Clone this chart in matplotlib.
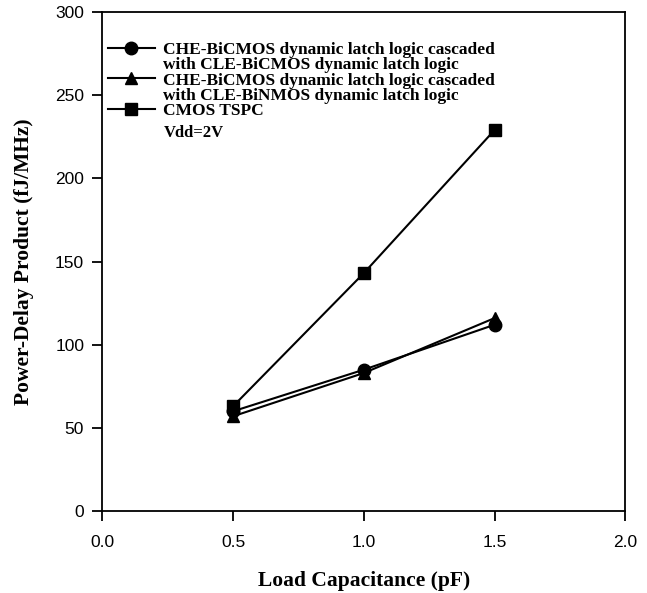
import matplotlib.pyplot as plt
from matplotlib.lines import Line2D

# data
load_pf = [0.5, 1.0, 1.5]
pdp_bicmos = [60, 85, 112]     # circles
pdp_binmos = [57, 83, 116]     # triangles
pdp_cmos = [63, 143, 229]      # squares

serif = ['Liberation Serif', 'DejaVu Serif']
sans = ['Liberation Sans', 'DejaVu Sans']

fig = plt.figure(figsize=(6.47, 5.93), dpi=100)
ax = fig.add_axes([0.158, 0.138, 0.8085, 0.842])

ax.plot(load_pf, pdp_bicmos, color='k', lw=1.5, marker='o', ms=9)
ax.plot(load_pf, pdp_binmos, color='k', lw=1.5, marker='^', ms=9)
ax.plot(load_pf, pdp_cmos, color='k', lw=1.5, marker='s', ms=8.5)

ax.set_xlim(0, 2)
ax.set_ylim(0, 300)
ax.set_xticks([0.0, 0.5, 1.0, 1.5, 2.0])
ax.set_yticks([0, 50, 100, 150, 200, 250, 300])
ax.set_xticklabels(['0.0', '0.5', '1.0', '1.5', '2.0'], family=sans, fontsize=12.5)
ax.set_yticklabels(['0', '50', '100', '150', '200', '250', '300'], family=sans, fontsize=12.5)
ax.tick_params(direction='out', length=7, width=1.3)
ax.tick_params(axis='x', pad=10)
ax.tick_params(axis='y', pad=6)
for s in ax.spines.values():
    s.set_linewidth(1.3)

ax.set_xlabel('Load Capacitance (pF)', family=serif, fontweight='bold', fontsize=15.5, labelpad=15)
ax.set_ylabel('Power-Delay Product (fJ/MHz)', family=serif, fontweight='bold', fontsize=15.5, labelpad=15)

# legend: handle sits on the first line of each two-line label
blank = Line2D([], [], linestyle='none')
handles = [
    Line2D([], [], color='k', lw=1.5, marker='o', ms=9), blank,
    Line2D([], [], color='k', lw=1.5, marker='^', ms=9), blank,
    Line2D([], [], color='k', lw=1.5, marker='s', ms=8.5),
]
labels = [
    'CHE-BiCMOS dynamic latch logic cascaded',
    'with CLE-BiCMOS dynamic latch logic',
    'CHE-BiCMOS dynamic latch logic cascaded',
    'with CLE-BiNMOS dynamic latch logic',
    'CMOS TSPC',
]
ax.legend(handles, labels, loc='upper left', bbox_to_anchor=(0.011, 0.94), frameon=False,
          prop={'family': serif, 'weight': 'bold', 'size': 12.5},
          handlelength=2.7, handletextpad=0.45, labelspacing=-0.05,
          borderaxespad=0, borderpad=0)
ax.text(0.117, 0.758, 'Vdd=2V', transform=ax.transAxes, family=serif,
        fontweight='bold', fontsize=12, va='center')

fig.savefig('out.png', dpi=100)
